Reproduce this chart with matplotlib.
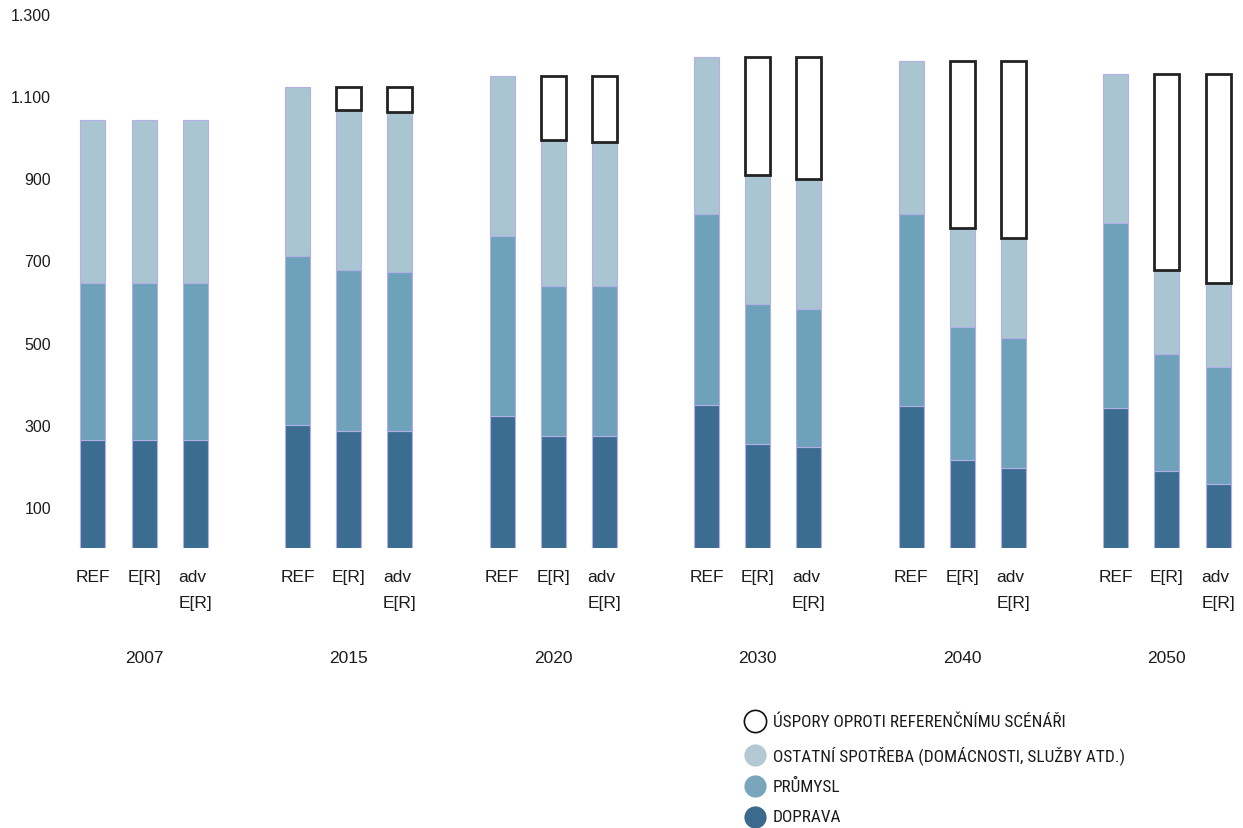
import matplotlib
matplotlib.use("Agg")
import matplotlib.pyplot as plt
from matplotlib.lines import Line2D
from matplotlib import font_manager
import numpy as np

years = ["2007", "2015", "2020", "2030", "2040", "2050"]
scenarios = ["REF", "E[R]", "adv\nE[R]"]

# values per year: [REF, E[R], adv E[R]]
doprava = [[263, 263, 263], [300, 285, 285], [322, 273, 273],
           [349, 254, 246], [346, 215, 195], [341, 188, 156]]
prumysl = [[383, 383, 383], [410, 391, 386], [437, 364, 364],
           [463, 341, 337], [466, 322, 315], [449, 285, 285]]
ostatni = [[395, 395, 395], [412, 390, 390], [390, 356, 351],
           [383, 312, 315], [373, 243, 244], [364, 203, 203]]
uspory = [[0, 0, 0], [0, 56, 61], [0, 156, 161],
          [0, 288, 297], [0, 405, 431], [0, 478, 510]]

yticks = [100, 300, 500, 700, 900, 1100, 1300]
ytick_labels = ["100", "300", "500", "700", "900", "1.100", "1.300"]

legend_labels = ["ÚSPORY OPROTI REFERENČNÍMU SCÉNÁŘI",
                 "OSTATNÍ SPOTŘEBA (DOMÁCNOSTI, SLUŽBY ATD.)",
                 "PRŮMYSL",
                 "DOPRAVA"]

c_dark = "#3b6d90"
c_mid = "#6ea2ba"
c_light = "#a9c5d2"
c_edge = "#b3b0e8"

available = {f.name for f in font_manager.fontManager.ttflist}
narrow = [n for n in ["Roboto Condensed", "Liberation Sans Narrow",
                      "Open Sans Condensed", "DejaVu Sans"] if n in available]
legend_family = narrow[0] if narrow else "DejaVu Sans"
legend_stretch = "normal" if legend_family != "DejaVu Sans" else "condensed"
legend_size = 12.4 if legend_family != "DejaVu Sans" else 10.2

fig = plt.figure(figsize=(12.43, 8.29), dpi=100)
ax = fig.add_axes([0.0501, 0.3378, 0.9463, 0.6441])

d = np.array(doprava, dtype=float)
p = np.array(prumysl, dtype=float)
o = np.array(ostatni, dtype=float)
u = np.array(uspory, dtype=float)

ng, ns = d.shape
x = np.array([[4 * g + j for j in range(ns)] for g in range(ng)], dtype=float)
w = 0.49

xf, df, pf, of, uf = x.ravel(), d.ravel(), p.ravel(), o.ravel(), u.ravel()
ax.bar(xf, df, w, color=c_dark, edgecolor=c_edge, linewidth=0.8)
ax.bar(xf, pf, w, bottom=df, color=c_mid, edgecolor=c_edge, linewidth=0.8)
ax.bar(xf, of, w, bottom=df + pf, color=c_light, edgecolor=c_edge, linewidth=0.8)
mask = uf > 0
ax.bar(xf[mask], uf[mask], w, bottom=(df + pf + of)[mask], color="white",
       edgecolor="#222222", linewidth=2.0)

ax.set_xlim(-0.6, 22.4)
ax.set_ylim(0, 1300)
for s in ax.spines.values():
    s.set_visible(False)
ax.set_xticks([])
ax.set_yticks(yticks)
ax.set_yticklabels(ytick_labels, fontsize=11.5, color="#1c1c1c",
                   family="Liberation Sans")
ax.tick_params(axis="y", length=0, pad=8)

txt_kw = dict(fontsize=12.5, color="#1c1c1c", clip_on=False, linespacing=1.95,
              family="Liberation Sans")
for g in range(ng):
    for j in range(ns):
        ax.text(x[g, j], -50, scenarios[j], ha="center", va="top",
                multialignment="left", **txt_kw)
    ax.text(x[g, 1], -266, years[g], ha="center", va="center",
            fontsize=12.5, color="#1c1c1c", clip_on=False,
            family="Liberation Sans")

# legend drawn by hand in figure pixels
W, H = 1243, 829
leg_rows = [722, 756, 787, 818]
leg_style = [dict(mfc="white", mec="#111111", mew=1.2),
             dict(mfc="#b5c9d4", mec="#b5c9d4", mew=0),
             dict(mfc="#79a5bd", mec="#79a5bd", mew=0),
             dict(mfc="#3c6a8d", mec="#3c6a8d", mew=0)]
for yy, lab, st in zip(leg_rows, legend_labels, leg_style):
    fig.add_artist(Line2D([755 / W], [1 - yy / H], marker="o", markersize=16,
                          linestyle="none", transform=fig.transFigure, **st))
    fig.text(773 / W, 1 - yy / H, lab, ha="left", va="center",
             fontsize=legend_size, color="#1a1a1a",
             family=legend_family, fontstretch=legend_stretch)

fig.savefig("out.png", dpi=100)
